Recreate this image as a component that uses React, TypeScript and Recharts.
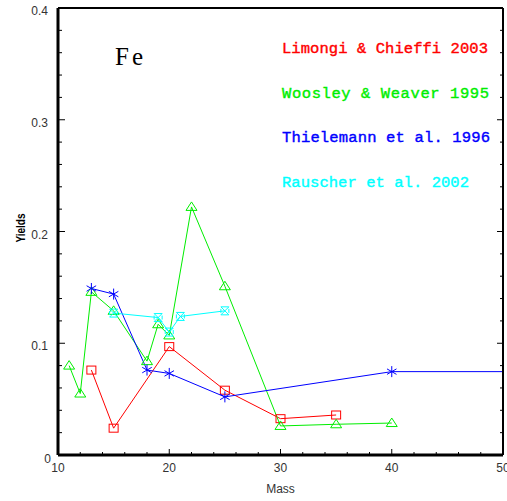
import React from "react";
import { ComposedChart, Line, XAxis, YAxis } from "recharts";

// ---- data ----
const limongiMass = [13, 15, 20, 25, 30, 35];
const limongiFe = [0.076, 0.024, 0.097, 0.058, 0.0325, 0.0358];

const woosleyMass = [11, 12, 13, 15, 18, 19, 20, 22, 25, 30, 35, 40];
const woosleyFe = [0.08, 0.055, 0.146, 0.129, 0.084, 0.117, 0.107, 0.222, 0.151, 0.026, 0.0275, 0.0286];

const thielemannMass = [13, 15, 18, 20, 25, 40, 50];
const thielemannFe = [0.149, 0.144, 0.076, 0.073, 0.052, 0.0746, 0.0746];
const thielemannMarked = [true, true, true, true, true, true, false];

const rauscherMass = [15, 19, 20, 21, 25];
const rauscherFe = [0.127, 0.123, 0.11, 0.124, 0.129];

const xTicks = [10, 12, 14, 16, 18, 20, 22, 24, 26, 28, 30, 32, 34, 36, 38, 40, 42, 44, 46, 48, 50];
const xMajor = [10, 20, 30, 40, 50];
const yTicks = [0, 0.02, 0.04, 0.06, 0.08, 0.1, 0.12, 0.14, 0.16, 0.18, 0.2, 0.22, 0.24, 0.26, 0.28, 0.3, 0.32, 0.34, 0.36, 0.38, 0.4];
const yMajor = [0, 0.1, 0.2, 0.3, 0.4];
const yLabels = ["0", "0.1", "0.2", "0.3", "0.4"];

const legendLabels = ["Limongi & Chieffi 2003", "Woosley & Weaver 1995", "Thielemann et al. 1996", "Rauscher et al. 2002"];
const legendColors = ["#ff0000", "#00ee00", "#0000ff", "#00ffff"];
const legendLengths = [206, 207, 208, 187];

const toPoints = (xs: number[], ys: number[]) => xs.map((x, i) => ({ x, y: ys[i] }));
const limongiData = toPoints(limongiMass, limongiFe);
const woosleyData = toPoints(woosleyMass, woosleyFe);
const thielemannData = toPoints(thielemannMass, thielemannFe);
const rauscherData = toPoints(rauscherMass, rauscherFe);

const isMajor = (v: number, list: number[]) => list.some((m) => Math.abs(m - v) < 1e-9);

// ---- ticks ----
const BottomTick = (props: any) => {
  const { x, y, payload } = props;
  const major = isMajor(payload.value, xMajor);
  return (
    <g>
      <line x1={x} x2={x} y1={y} y2={y - (major ? 6 : 3)} stroke="#000" strokeWidth={1} />
      {major && (
        <text x={x} y={y + 17} textAnchor="middle" fontFamily="Liberation Sans, Arial, sans-serif" fontSize={12} fill="#333">
          {payload.value}
        </text>
      )}
    </g>
  );
};

const TopTick = (props: any) => {
  const { x, y, payload } = props;
  const major = isMajor(payload.value, xMajor);
  return <line x1={x} x2={x} y1={y} y2={y + (major ? 5 : 3)} stroke="#000" strokeWidth={1} />;
};

const LeftTick = (props: any) => {
  const { x, y, payload } = props;
  const idx = yMajor.findIndex((m) => Math.abs(m - payload.value) < 1e-9);
  const major = idx >= 0;
  const isZero = idx === 0;
  return (
    <g>
      <line x1={x} x2={x + (major ? 7 : 4)} y1={y} y2={y} stroke="#000" strokeWidth={1} />
      {major && (
        <text x={isZero ? x - 7 : x - 10} y={y + (isZero ? 8 : 7)} textAnchor="end" fontFamily="Liberation Sans, Arial, sans-serif" fontSize={12} fill="#333">
          {yLabels[idx]}
        </text>
      )}
    </g>
  );
};

const RightTick = (props: any) => {
  const { x, y, payload } = props;
  const major = isMajor(payload.value, yMajor);
  return <line x1={x} x2={x - (major ? 6 : 3)} y1={y} y2={y} stroke="#000" strokeWidth={1} />;
};

// ---- markers ----
const SquareDot = (props: any) => {
  const { cx, cy, index } = props;
  return <rect key={`sq${index}`} x={cx - 4.5} y={cy - 4} width={9} height={8} fill="none" stroke="#ff0000" strokeWidth={1} />;
};

const TriangleDot = (props: any) => {
  const { cx, cy, index } = props;
  return (
    <polygon
      key={`tr${index}`}
      points={`${cx - 5.5},${cy + 3.5} ${cx + 5.5},${cy + 3.5} ${cx},${cy - 5}`}
      fill="none"
      stroke="#00ee00"
      strokeWidth={1}
    />
  );
};

const StarDot = (props: any) => {
  const { cx, cy, index } = props;
  if (!thielemannMarked[index]) return <g key={`st${index}`} />;
  const r = 5.5;
  const a = r * Math.cos(Math.PI / 6);
  const b = r * Math.sin(Math.PI / 6);
  return (
    <g key={`st${index}`} stroke="#0000ff" strokeWidth={1}>
      <line x1={cx} x2={cx} y1={cy - r} y2={cy + r} />
      <line x1={cx - a} x2={cx + a} y1={cy - b} y2={cy + b} />
      <line x1={cx - a} x2={cx + a} y1={cy + b} y2={cy - b} />
    </g>
  );
};

const HourglassDot = (props: any) => {
  const { cx, cy, index } = props;
  const r = 4;
  return (
    <g key={`hg${index}`} stroke="#00ffff" strokeWidth={1} fill="none">
      <polygon points={`${cx - r},${cy - r} ${cx + r},${cy - r} ${cx - r},${cy + r} ${cx + r},${cy + r}`} />
      <line x1={cx - r} x2={cx - r} y1={cy - 2} y2={cy + 2} />
      <line x1={cx + r} x2={cx + r} y1={cy - 2} y2={cy + 2} />
    </g>
  );
};

export default function App() {
  return (
    <div style={{ position: "absolute", left: 0, top: 0, width: 507, height: 501, background: "#fff" }}>
      <ComposedChart width={507} height={501} margin={{ top: 0, right: 0, bottom: 0, left: 0 }}>
        <XAxis
          dataKey="x"
          type="number"
          domain={[10, 50]}
          ticks={xTicks}
          interval={0}
          height={46}
          tickSize={0}
          tickMargin={0}
          tick={<BottomTick />}
          axisLine={{ stroke: "#000", strokeWidth: 3 }}
          allowDataOverflow
        />
        <XAxis
          xAxisId="top"
          orientation="top"
          type="number"
          domain={[10, 50]}
          ticks={xTicks}
          interval={0}
          height={8}
          tickSize={0}
          tickMargin={0}
          tick={<TopTick />}
          axisLine={{ stroke: "#000", strokeWidth: 2 }}
          allowDataOverflow
        />
        <YAxis
          type="number"
          domain={[0, 0.4]}
          ticks={yTicks}
          interval={0}
          width={58}
          tickSize={0}
          tickMargin={0}
          tick={<LeftTick />}
          axisLine={{ stroke: "#000", strokeWidth: 3 }}
          allowDataOverflow
        />
        <YAxis
          yAxisId="right"
          orientation="right"
          type="number"
          domain={[0, 0.4]}
          ticks={yTicks}
          interval={0}
          width={4}
          tickSize={0}
          tickMargin={0}
          tick={<RightTick />}
          axisLine={{ stroke: "#000", strokeWidth: 2 }}
          allowDataOverflow
        />
        <Line data={limongiData} dataKey="y" stroke="#ff0000" strokeWidth={1} dot={SquareDot} activeDot={false} isAnimationActive={false} />
        <Line data={woosleyData} dataKey="y" stroke="#00ee00" strokeWidth={1} dot={TriangleDot} activeDot={false} isAnimationActive={false} />
        <Line data={thielemannData} dataKey="y" stroke="#0000ff" strokeWidth={1} dot={StarDot} activeDot={false} isAnimationActive={false} />
        <Line data={rauscherData} dataKey="y" stroke="#00ffff" strokeWidth={1} dot={HourglassDot} activeDot={false} isAnimationActive={false} />

        <text x={115} y={65} fontFamily="Liberation Serif, serif" fontSize={25} letterSpacing={3} fill="#000">Fe</text>
        {legendLabels.map((t, i) => (
          <text
            key={t}
            x={282}
            y={53 + i * 44.7}
            fontFamily="Liberation Mono, monospace"
            fontSize={15.5}
            textLength={legendLengths[i]}
            lengthAdjust="spacing"
            fill={legendColors[i]}
            stroke={legendColors[i]}
            strokeWidth={0.4}
          >
            {t}
          </text>
        ))}
        <text x={280.5} y={493} textAnchor="middle" fontFamily="Liberation Sans, Arial, sans-serif" fontSize={12} fill="#333">Mass</text>
        <text
          x={0}
          y={0}
          transform="translate(25,228) rotate(-90)"
          textAnchor="middle"
          fontFamily="Liberation Sans, Arial, sans-serif"
          fontWeight="bold"
          fontSize={13}
          textLength={29}
          lengthAdjust="spacingAndGlyphs"
          fill="#000"
        >
          Yields
        </text>
      </ComposedChart>
    </div>
  );
}
